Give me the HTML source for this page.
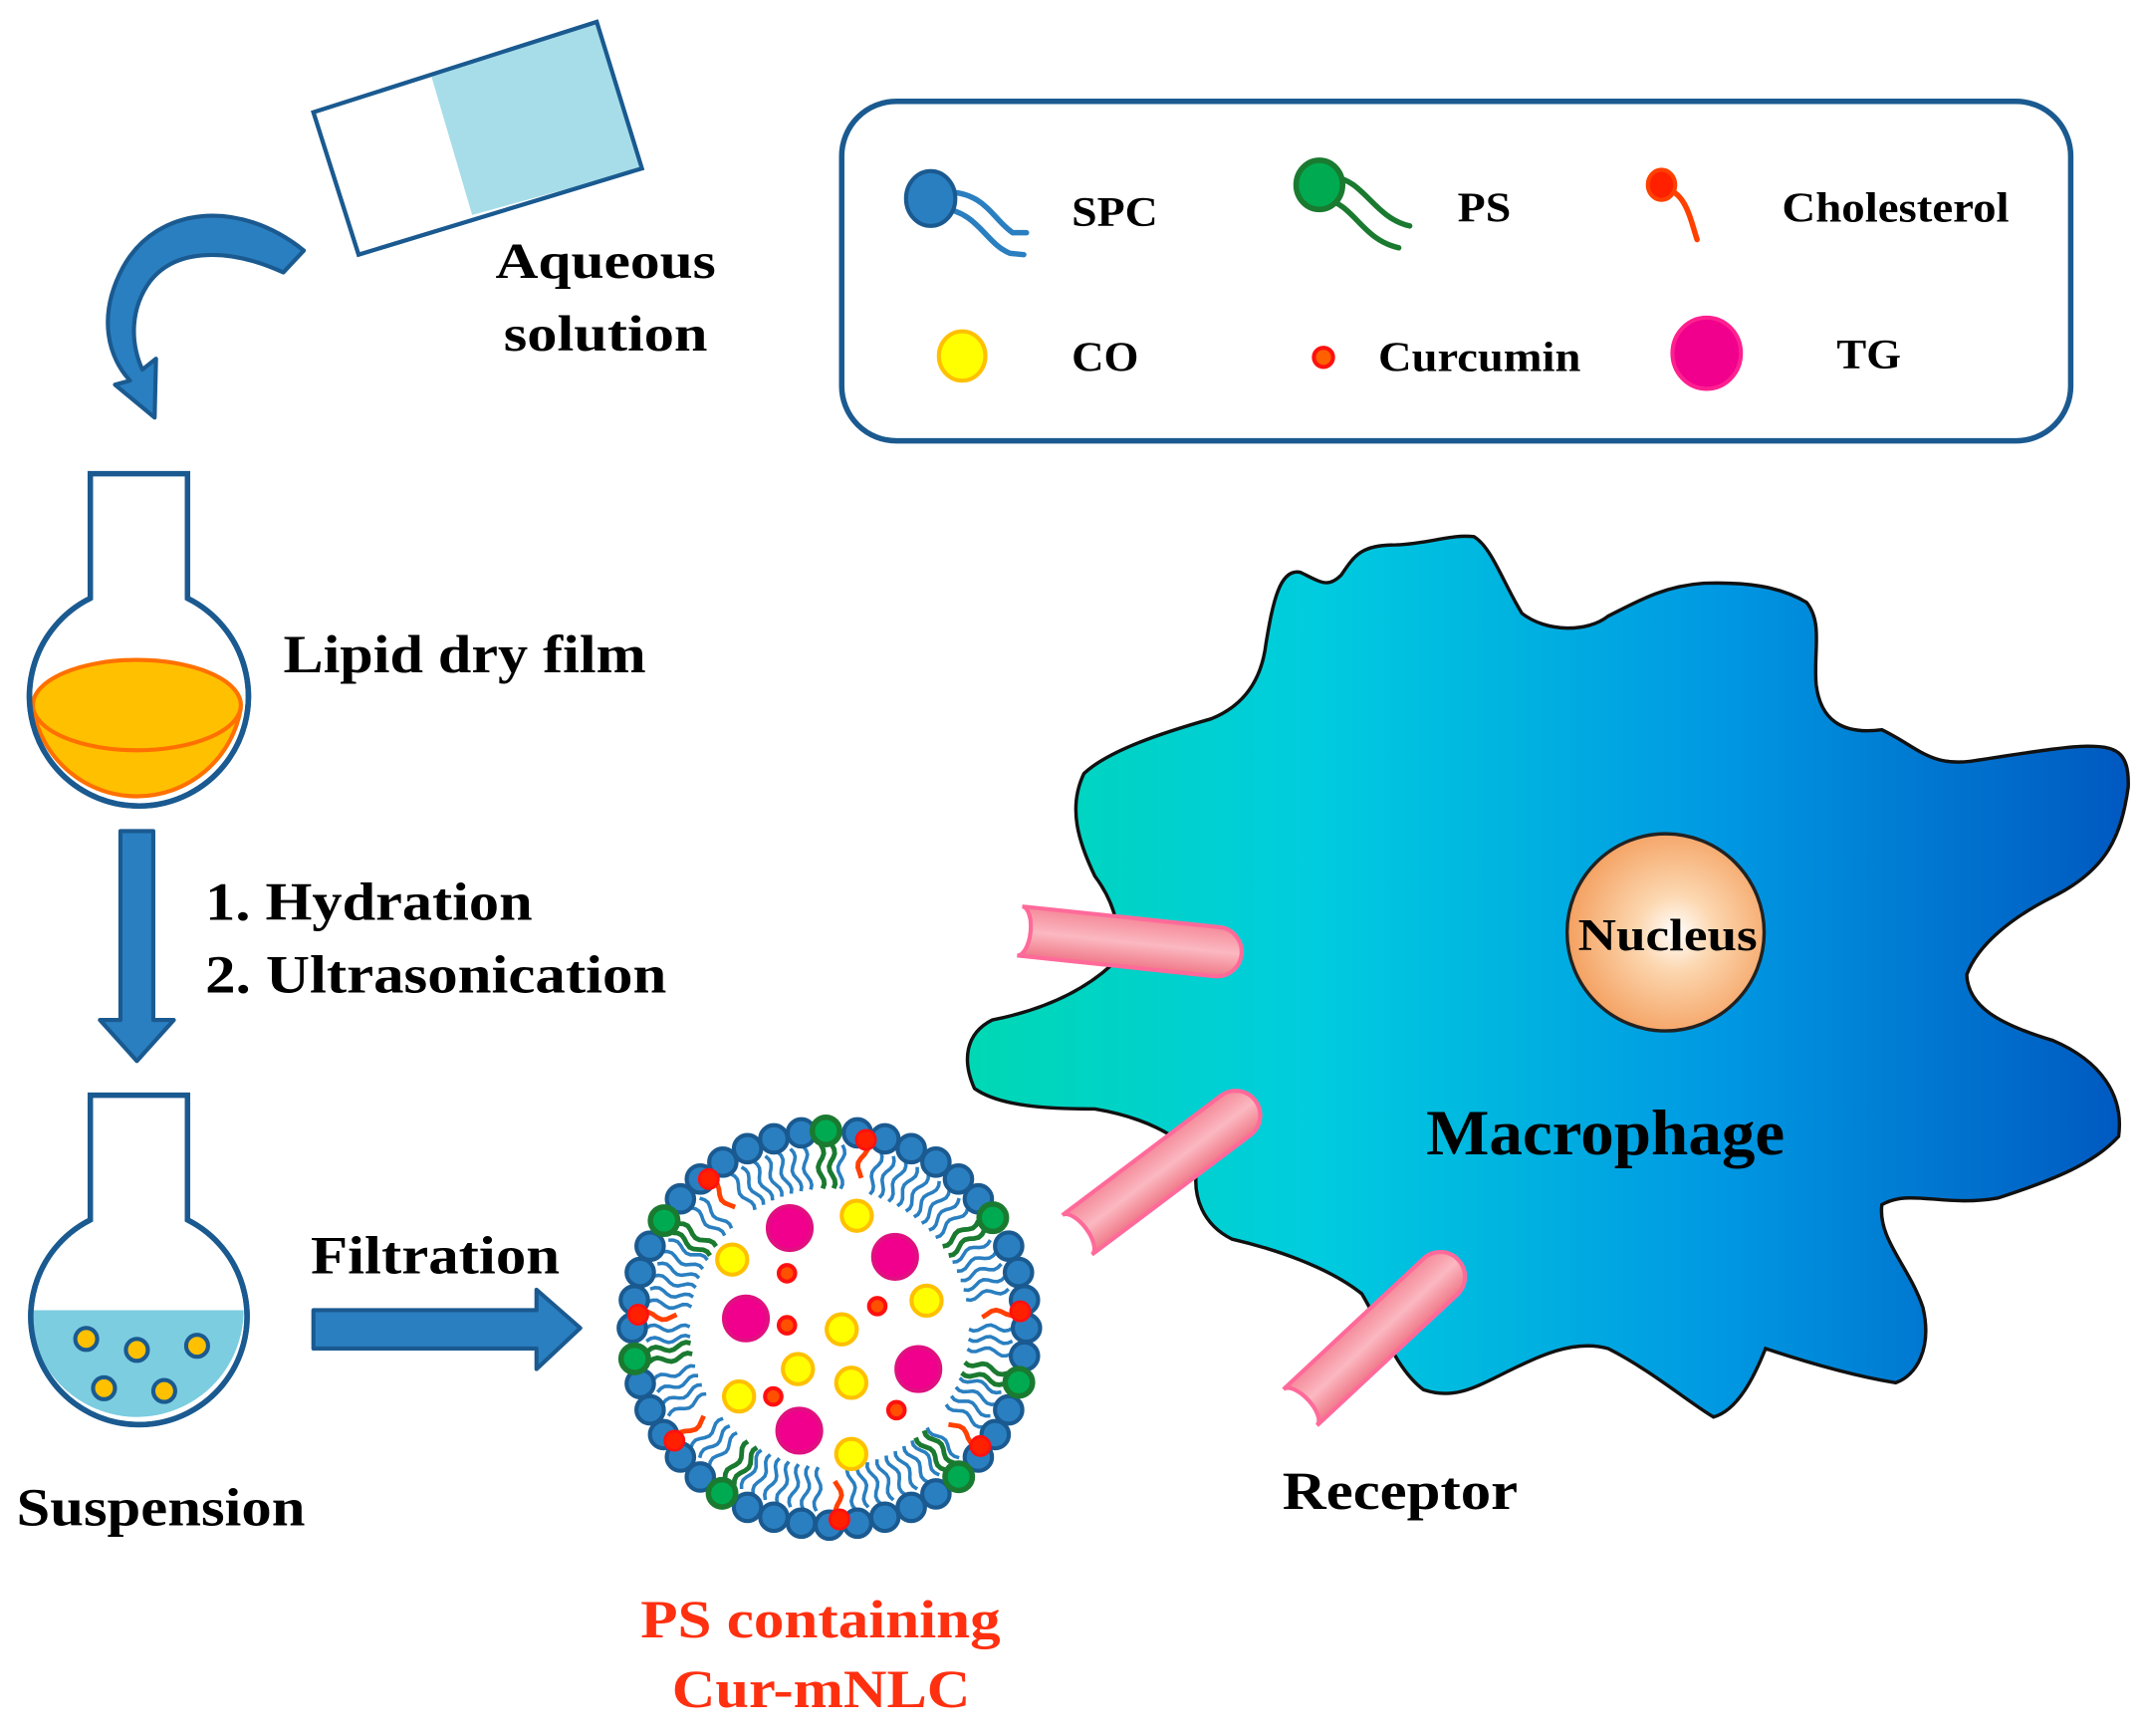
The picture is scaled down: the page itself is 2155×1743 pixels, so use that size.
<!DOCTYPE html>
<html><head><meta charset="utf-8"><style>
html,body{margin:0;padding:0;background:#fff;}
svg{display:block;}
text{font-family:"Liberation Serif",serif;font-weight:bold;}
</style></head><body>
<svg id="s" width="2155" height="1743" viewBox="0 0 1568 1268" preserveAspectRatio="none" xmlns="http://www.w3.org/2000/svg">
<defs>
<linearGradient id="cell" x1="0" y1="0" x2="1" y2="0">
<stop offset="0" stop-color="#00d8b4"/><stop offset="0.3" stop-color="#00ccdf"/><stop offset="0.65" stop-color="#0098e2"/><stop offset="1" stop-color="#0058c0"/>
</linearGradient>
<radialGradient id="nuc" cx="0.55" cy="0.5" r="0.55">
<stop offset="0" stop-color="#fff"/><stop offset="0.35" stop-color="#fcd7b0"/><stop offset="1" stop-color="#f4a060"/>
</radialGradient>
<linearGradient id="tube" x1="0" y1="0" x2="0" y2="1">
<stop offset="0" stop-color="#f58a9a"/><stop offset="0.5" stop-color="#fbb8c0"/><stop offset="1" stop-color="#f07888"/>
</linearGradient>
</defs>

<!-- bottle -->
<polygon points="229,82 436,16 469,123 262,186" fill="#fff" stroke="#1a5a90" stroke-width="3"/>
<polygon points="315,55 436,16 469,123 345,157" fill="#a6dde8"/>
<polygon points="229,82 436,16 469,123 262,186" fill="none" stroke="#1a5a90" stroke-width="3"/>
<text x="362" y="203" font-size="37" textLength="161" lengthAdjust="spacingAndGlyphs">Aqueous</text>
<text x="368" y="256" font-size="37" textLength="149" lengthAdjust="spacingAndGlyphs">solution</text>

<!-- curved arrow -->
<path d="M222,183 C175,145 115,150 90,195 C70,232 80,262 95,278 L84,281 L113,305 L114,262 L104,270 C95,250 95,225 110,205 C130,180 170,182 207,199 Z" fill="#2a7fc0" stroke="#1a5a90" stroke-width="3" stroke-linejoin="round"/>

<!-- flask 1 -->
<path d="M66,346 H137 V437 A80,80 0 1 1 66,437 Z" fill="#fff" stroke="#1a5a90" stroke-width="4"/>
<path d="M24,517 A77,77 0 0 0 176,517 Z" fill="#ffc000"/>
<ellipse cx="100" cy="515" rx="76" ry="33" fill="#ffc000" stroke="#ff7000" stroke-width="3"/>
<path d="M24,517 A77,77 0 0 0 176,517" fill="none" stroke="#ff7000" stroke-width="3"/>
<path d="M137,437 A80,80 0 1 1 66,437" fill="none" stroke="#1a5a90" stroke-width="4"/>
<text x="207" y="491" font-size="39" textLength="265" lengthAdjust="spacingAndGlyphs">Lipid dry film</text>

<!-- down arrow -->
<polygon points="88,607 112,607 112,745 127,745 100,775 73,745 88,745" fill="#2a7fc0" stroke="#1a5a90" stroke-width="3" stroke-linejoin="round"/>
<text x="150" y="672" font-size="39" textLength="239" lengthAdjust="spacingAndGlyphs">1. Hydration</text>
<text x="150" y="725" font-size="39" textLength="337" lengthAdjust="spacingAndGlyphs">2. Ultrasonication</text>

<!-- flask 2 -->
<path d="M66,800 H137 V891 A79,79 0 1 1 66,891 Z" fill="#fff" stroke="#1a5a90" stroke-width="4"/>
<path d="M22,957 H178 A78,78 0 0 1 22,957 Z" fill="#7ccde0"/>
<path d="M137,891 A79,79 0 1 1 66,891" fill="none" stroke="#1a5a90" stroke-width="4"/>
<g fill="#ffc000" stroke="#1a5a90" stroke-width="3">
<circle cx="63" cy="978" r="8"/><circle cx="100" cy="986" r="8"/><circle cx="144" cy="983" r="8"/><circle cx="76" cy="1014" r="8"/><circle cx="120" cy="1016" r="8"/>
</g>
<text x="12" y="1114" font-size="39" textLength="211" lengthAdjust="spacingAndGlyphs">Suspension</text>

<!-- right arrow -->
<polygon points="229,957 392,957 392,942 424,970 392,1000 392,985 229,985" fill="#2a7fc0" stroke="#1a5a90" stroke-width="3" stroke-linejoin="round"/>
<text x="227" y="930" font-size="39" textLength="182" lengthAdjust="spacingAndGlyphs">Filtration</text>

<!-- legend -->
<rect x="615" y="74" width="898" height="248" rx="40" fill="#fff" stroke="#1a5a90" stroke-width="4"/>
<g fill="none" stroke-width="4" stroke-linecap="round">
<path d="M690,140 C720,140 725,160 740,170 L750,170" stroke="#2a7fc0"/>
<path d="M688,152 C715,155 720,178 738,185 L748,186" stroke="#2a7fc0"/>
<path d="M975,130 C995,130 1005,160 1030,165" stroke="#1a7a30"/>
<path d="M968,145 C990,150 995,175 1022,181" stroke="#1a7a30"/>
<path d="M1215,137 C1232,140 1235,160 1240,175" stroke="#ff4000"/>
</g>
<ellipse cx="680" cy="145" rx="18" ry="20" fill="#2a7fc0" stroke="#1a5a90" stroke-width="3"/>
<ellipse cx="964" cy="135" rx="17" ry="18" fill="#00aa50" stroke="#1a7a30" stroke-width="4"/>
<ellipse cx="1214" cy="135" rx="10" ry="11" fill="#ff2000" stroke="#ff4000" stroke-width="3"/>
<ellipse cx="703" cy="260" rx="17" ry="18" fill="#ffff00" stroke="#ffc000" stroke-width="3"/>
<ellipse cx="967" cy="261" rx="7" ry="7" fill="#ff6000" stroke="#ff1010" stroke-width="3"/>
<ellipse cx="1247" cy="258" rx="25" ry="26" fill="#f0008c" stroke="#ff2090" stroke-width="3"/>
<g font-size="31">
<text x="783" y="165" textLength="63" lengthAdjust="spacingAndGlyphs">SPC</text>
<text x="1065" y="162" textLength="39" lengthAdjust="spacingAndGlyphs">PS</text>
<text x="1302" y="162" textLength="166" lengthAdjust="spacingAndGlyphs">Cholesterol</text>
<text x="783" y="271" textLength="49" lengthAdjust="spacingAndGlyphs">CO</text>
<text x="1007" y="271" textLength="148" lengthAdjust="spacingAndGlyphs">Curcumin</text>
<text x="1342" y="269" textLength="47" lengthAdjust="spacingAndGlyphs">TG</text>
</g>

<!-- macrophage -->
<path d="M925,470 C930,440 935,415 950,418 C965,425 970,430 980,420 C990,405 995,398 1020,398 C1045,397 1060,390 1077,392 C1090,400 1098,425 1112,448 C1130,462 1160,462 1175,450 C1195,440 1215,428 1245,426 C1275,425 1300,428 1320,440 C1332,455 1325,475 1327,500 C1330,525 1345,537 1375,533 C1400,545 1410,560 1440,556 C1480,550 1510,545 1525,545 C1545,545 1556,548 1555,575 C1550,610 1540,635 1500,655 C1470,670 1445,690 1437,712 C1438,735 1460,748 1500,760 C1535,775 1552,800 1548,830 C1530,850 1500,862 1460,875 C1420,882 1395,868 1375,880 C1372,905 1395,925 1405,955 C1412,985 1400,1005 1385,1010 C1355,1005 1320,995 1290,985 C1282,1005 1270,1030 1252,1035 C1235,1025 1205,1000 1175,985 C1150,978 1125,990 1095,1005 C1075,1015 1060,1022 1040,1015 C1020,1000 1010,970 995,945 C970,925 930,912 900,905 C880,895 870,875 875,850 C865,828 830,815 800,810 C765,810 730,808 712,795 C703,775 705,755 725,745 C760,738 790,725 812,705 C822,685 815,660 800,640 C788,615 780,590 792,565 C810,548 850,535 885,525 C910,515 922,495 925,470 Z" fill="url(#cell)" stroke="#111" stroke-width="2.5"/>
<circle cx="1217" cy="681" r="72" fill="url(#nuc)" stroke="#222" stroke-width="2.5"/>
<text x="1153" y="694" font-size="33" textLength="131" lengthAdjust="spacingAndGlyphs">Nucleus</text>
<text x="1042" y="843" font-size="47" textLength="262" lengthAdjust="spacingAndGlyphs">Macrophage</text>

<!-- receptors -->
<g stroke="#ff6a9a" stroke-width="3" fill="url(#tube)">
<g transform="translate(745,680) rotate(6)"><path d="M0,-18 H145 A18,18 0 0 1 145,18 H0 A8,18 0 0 0 0,-18 Z"/></g>
<g transform="translate(787,902) rotate(-37)"><path d="M0,-18 H145 A18,18 0 0 1 145,18 H0 A8,18 0 0 0 0,-18 Z"/></g>
<g transform="translate(950,1028) rotate(-43)"><path d="M0,-18 H140 A18,18 0 0 1 140,18 H0 A8,18 0 0 0 0,-18 Z"/></g>
</g>
<text x="937" y="1102" font-size="39" textLength="172" lengthAdjust="spacingAndGlyphs">Receptor</text>

<!-- nanoparticle -->
<g id="np"></g>
<g stroke-width="3">
<g fill="#f0008c" stroke="#e01080">
<circle cx="577" cy="897" r="16"/><circle cx="654" cy="918" r="16"/><circle cx="545" cy="963" r="16"/><circle cx="671" cy="1000" r="16"/><circle cx="584" cy="1045" r="16"/>
</g>
<g fill="#ffff00" stroke="#ffc000">
<circle cx="626" cy="888" r="11"/><circle cx="535" cy="920" r="11"/><circle cx="677" cy="950" r="11"/><circle cx="615" cy="971" r="11"/><circle cx="583" cy="1000" r="11"/><circle cx="622" cy="1010" r="11"/><circle cx="540" cy="1020" r="11"/><circle cx="622" cy="1062" r="11"/>
</g>
<g fill="#ff5000" stroke="#ff1010">
<circle cx="575" cy="930" r="6"/><circle cx="575" cy="968" r="6"/><circle cx="641" cy="954" r="6"/><circle cx="565" cy="1020" r="6"/><circle cx="655" cy="1030" r="6"/>
</g>
</g>
<text x="468" y="1196" font-size="39" fill="#ff3010" textLength="263" lengthAdjust="spacingAndGlyphs">PS containing</text>
<text x="491" y="1247" font-size="39" fill="#ff3010" textLength="218" lengthAdjust="spacingAndGlyphs">Cur-mNLC</text>
</svg>
<script>
(function(){
var NS="http://www.w3.org/2000/svg",g=document.getElementById("np"),cx=606,cy=970;
function el(n,a){var e=document.createElementNS(NS,n);for(var k in a)e.setAttribute(k,a[k]);g.appendChild(e);return e;}
var greens=[-91,-34,16,49,123,171,-147],reds=[-79,-129,-176,-5,38,87,144];
function near(a,l){for(var i=0;i<l.length;i++){var d=Math.abs(((a-l[i])+540)%360-180);if(d<4)return true;}return false;}
var N=44;
for(var i=0;i<N*2;i++){var a=i*360/(N*2);if(near(a,greens)||near(a,reds))continue;
 var r=Math.PI/180;var pts=[];for(var t=0;t<=10;t++){var rr=134-t*3.2;var off=Math.sin(t*0.9)*2.2;var an=a*r+off/rr;pts.push((cx+rr*Math.cos(an)).toFixed(1)+","+(cy+rr*Math.sin(an)).toFixed(1));}
 el("polyline",{points:pts.join(" "),fill:"none",stroke:"#2a7fc0","stroke-width":"2.6"});}
for(var i=0;i<N;i++){var a=i*360/N;if(near(a,greens))continue;var r=a*Math.PI/180;
 el("circle",{cx:cx+144*Math.cos(r),cy:cy+144*Math.sin(r),r:10,fill:"#2a7fc0",stroke:"#1a5a90","stroke-width":"3"});}
greens.forEach(function(a){var r=a*Math.PI/180;
 for(var s=-1;s<=1;s+=2){var pts=[];for(var t=0;t<=10;t++){var rr=134-t*3.2;var an=r+(s*4+Math.sin(t*0.9)*2.2)/rr;pts.push((cx+rr*Math.cos(an)).toFixed(1)+","+(cy+rr*Math.sin(an)).toFixed(1));}
 el("polyline",{points:pts.join(" "),fill:"none",stroke:"#1a7a30","stroke-width":"3.5"});}
 el("circle",{cx:cx+144*Math.cos(r),cy:cy+144*Math.sin(r),r:10,fill:"#00aa50",stroke:"#1a7a30","stroke-width":"4"});});
reds.forEach(function(a){var r=a*Math.PI/180;var pts=[];for(var t=0;t<=8;t++){var rr=140-t*3.5;var an=r+Math.sin(t*0.9)*2.5/rr;pts.push((cx+rr*Math.cos(an)).toFixed(1)+","+(cy+rr*Math.sin(an)).toFixed(1));}
 el("polyline",{points:pts.join(" "),fill:"none",stroke:"#ff4000","stroke-width":"3.5"});
 el("circle",{cx:cx+140*Math.cos(r),cy:cy+140*Math.sin(r),r:7,fill:"#ff2000",stroke:"#ff1010","stroke-width":"2"});});
})();
</script>
</body></html>
